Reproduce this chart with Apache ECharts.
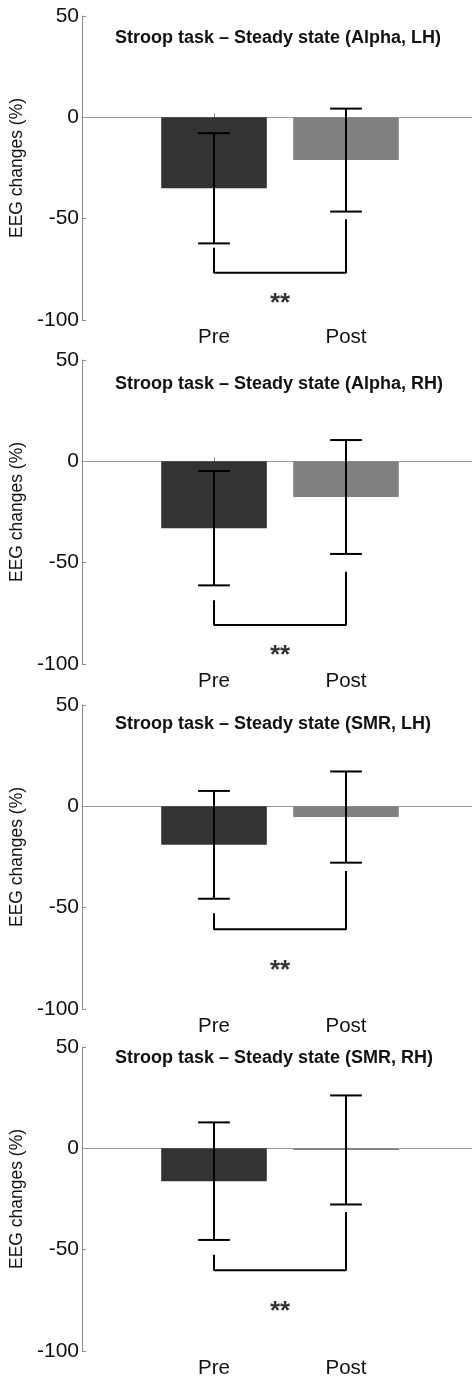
<!DOCTYPE html>
<html>
<head>
	<meta charset="utf-8">
	<title>Stroop task - Steady state</title>
	<style>
		html, body { margin: 0; padding: 0; background: #fff; overflow: hidden; }
		#chart1 { width: 472px; height: 1376px; }
	</style>
</head>
<body>
	<div id="chart1"></div>

	<script src="https://cdn.jsdelivr.net/npm/echarts@6/dist/echarts.min.js"></script>
	<script type="text/javascript">

    // one entry per panel, top to bottom
    var panelTitles = [
        'Stroop task \u2013 Steady state (Alpha, LH)',
        'Stroop task \u2013 Steady state (Alpha, RH)',
        'Stroop task \u2013 Steady state (SMR, LH)',
        'Stroop task \u2013 Steady state (SMR, RH)'
    ];
    var categories = ['Pre', 'Post'];
    var preMean  = [-35.0, -33.0, -19.0, -16.2];
    var postMean = [-21.1, -17.6, -5.3, -0.8];
    var preErr   = [27.2, 28.2, 26.6, 29.0];
    var postErr  = [25.4, 28.1, 22.5, 26.9];
    // significance bracket: left leg top, bottom bar, right leg top, star height
    var bracketPreTop  = [-64.3, -68.5, -52.8, -52.5];
    var bracketLow     = [-76.7, -80.7, -60.7, -60.1];
    var bracketPostTop = [-50.3, -54.5, -31.9, -31.4];
    var starY          = [-92.0, -96.0, -81.0, -80.5];
    var starText = '**';
    var yMin = -100, yMax = 50, yStep = 50;

    var gridTops = [16, 360, 705, 1047];
    var titleTops = [28, 374, 714, 1048];
    var barColors = ['#333333', '#808080'];
    var axisGray = '#8c8c8c';
    var font = "'Liberation Sans', Arial, sans-serif";

    var dom = document.getElementById('chart1');
    var myChart = echarts.init(dom);

    var grids = [], xAxes = [], yAxes = [], titles = [], series = [];

    for (var i = 0; i < 4; i++) {
        grids.push({left: 82, width: 396, top: gridTops[i], height: 304,
                    containLabel: false, outerBoundsMode: 'none'});
        titles.push({
            text: panelTitles[i],
            left: 115, top: titleTops[i], padding: 0,
            textStyle: {fontFamily: font, fontSize: 18, fontWeight: 'bold', color: '#111', lineHeight: 20}
        });
        xAxes.push({
            type: 'value', gridIndex: i, min: 0, max: 3, interval: 1,
            splitLine: {show: false},
            axisLine: {lineStyle: {color: axisGray, width: 1}},
            axisTick: {inside: true, length: 4, lineStyle: {color: axisGray}},
            axisLabel: {
                margin: 7, fontFamily: font, fontSize: 20.5, color: '#111',
                formatter: function (v) { return v >= 1 && v <= categories.length ? categories[v - 1] : ''; }
            }
        });
        yAxes.push({
            type: 'value', gridIndex: i, min: yMin, max: yMax, interval: yStep,
            name: 'EEG changes (%)', nameLocation: 'middle', nameGap: 42,
            nameTextStyle: {fontFamily: font, fontSize: 17.5, color: '#111'},
            splitLine: {show: false},
            axisLine: {show: true, lineStyle: {color: axisGray, width: 1}},
            axisTick: {show: true, inside: true, length: 4, lineStyle: {color: axisGray}},
            axisLabel: {margin: 3, fontFamily: font, fontSize: 21, color: '#111'}
        });

        // bars
        series.push({
            type: 'custom', xAxisIndex: i, yAxisIndex: i, z: 3,
            data: [[1, preMean[i]], [2, postMean[i]]],
            renderItem: function (params, api) {
                var x = api.value(0), v = api.value(1);
                var p0 = api.coord([x - 0.4, 0]);
                var p1 = api.coord([x + 0.4, v]);
                return {
                    type: 'rect',
                    shape: {x: p0[0], y: Math.min(p0[1], p1[1]), width: p1[0] - p0[0], height: Math.abs(p1[1] - p0[1])},
                    style: {fill: barColors[params.dataIndex]}
                };
            },
            markLine: {
                silent: true, symbol: 'none', z: 1,
                label: {show: false},
                lineStyle: {color: '#9a9a9a', width: 1, type: 'solid'},
                data: [{yAxis: 0}]
            }
        });

        // error bars
        series.push({
            type: 'custom', xAxisIndex: i, yAxisIndex: i, z: 5,
            data: [
                [1, preMean[i] - preErr[i], preMean[i] + preErr[i]],
                [2, postMean[i] - postErr[i], postMean[i] + postErr[i]]
            ],
            renderItem: function (params, api) {
                var x = api.value(0);
                var lo = api.coord([x, api.value(1)]);
                var hi = api.coord([x, api.value(2)]);
                var cap = api.size([0.12, 0])[0];
                var st = {stroke: '#000', lineWidth: 2};
                return {
                    type: 'group',
                    children: [
                        {type: 'line', shape: {x1: lo[0], y1: lo[1], x2: hi[0], y2: hi[1]}, style: st},
                        {type: 'line', shape: {x1: lo[0] - cap, y1: lo[1], x2: lo[0] + cap, y2: lo[1]}, style: st},
                        {type: 'line', shape: {x1: hi[0] - cap, y1: hi[1], x2: hi[0] + cap, y2: hi[1]}, style: st}
                    ]
                };
            }
        });

        // significance bracket
        series.push({
            type: 'line', xAxisIndex: i, yAxisIndex: i, z: 5,
            symbol: 'none', silent: true,
            lineStyle: {color: '#000', width: 2},
            data: [[1, bracketPreTop[i]], [1, bracketLow[i]], [2, bracketLow[i]], [2, bracketPostTop[i]]]
        });

        // stars
        series.push({
            type: 'scatter', xAxisIndex: i, yAxisIndex: i, z: 5,
            symbolSize: 0, silent: true,
            label: {show: true, position: 'inside', formatter: starText,
                    fontFamily: font, fontSize: 26, fontWeight: 'bold', color: '#000'},
            data: [[1.5, starY[i]]]
        });
    }

    myChart.setOption({
        animation: false,
        title: titles,
        grid: grids,
        xAxis: xAxes,
        yAxis: yAxes,
        series: series
    });

	</script>
</body>
</html>
